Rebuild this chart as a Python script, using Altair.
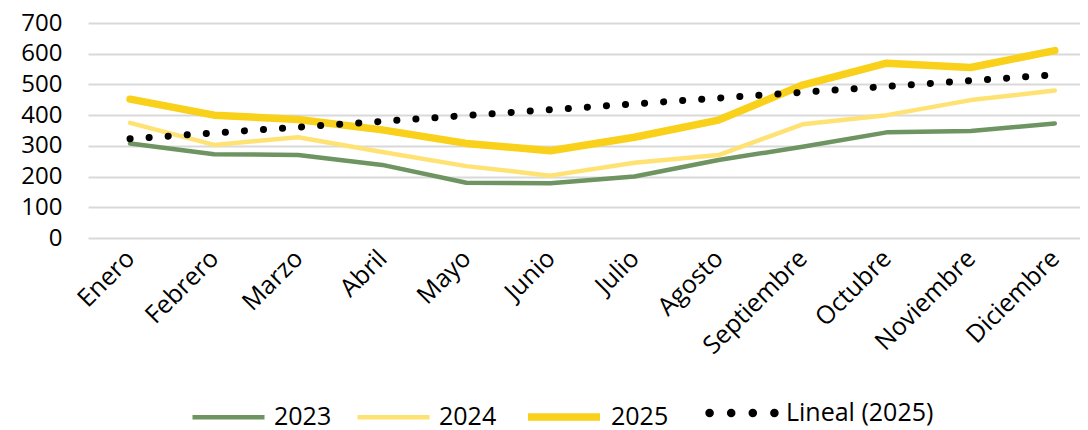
import altair as alt
import pandas as pd

months = ["Enero", "Febrero", "Marzo", "Abril", "Mayo", "Junio", "Julio",
          "Agosto", "Septiembre", "Octubre", "Noviembre", "Diciembre"]
v2023 = [308, 273, 270, 238, 180, 178, 200, 254, 297, 344, 348, 373]
v2024 = [375, 303, 328, 280, 234, 203, 245, 270, 370, 400, 449, 480]
v2025 = [452, 400, 386, 352, 308, 284, 328, 384, 498, 569, 555, 610]
series_names = ["2023", "2024", "2025"]
colors = ["#6E9461", "#FFE274", "#F9D01A"]
trend_name = "Lineal (2025)"

rows = []
for name, vals in zip(series_names, [v2023, v2024, v2025]):
    for i, v in enumerate(vals):
        rows.append({"idx": i + 1, "mes": months[i], "series": name, "value": v})
df = pd.DataFrame(rows)

font = "Open Sans"
label_expr = "[" + ",".join("'%s'" % m for m in months) + "][datum.value - 1]"

x = alt.X("idx:Q", scale=alt.Scale(domain=[0.5, 12.3], nice=False, zero=False),
          axis=alt.Axis(values=list(range(1, 13)), labelExpr=label_expr, title=None,
                        grid=False, domain=False, ticks=False, labelAngle=-45,
                        labelAlign="right", labelBaseline="middle", labelPadding=16,
                        labelOverlap=False, labelFontSize=25, labelColor="#000",
                        labelFont=font))
y = alt.Y("value:Q", scale=alt.Scale(domain=[0, 700], nice=False),
          axis=alt.Axis(values=list(range(0, 701, 100)), title=None, domain=False,
                        ticks=False, labelPadding=26, labelFontSize=24,
                        labelColor="#000", labelFont=font, gridColor="#D9D9D9",
                        gridWidth=2))

color = alt.Color("series:N", scale=alt.Scale(domain=series_names, range=colors),
                  legend=alt.Legend(title=None, orient="none", direction="horizontal",
                                    legendX=102, legendY=354,
                                    symbolType="stroke", symbolSize=5184,
                                    labelFontSize=25, labelFont=font, labelColor="#000",
                                    labelOffset=7, columnPadding=16))
sw = alt.StrokeWidth("series:N", scale=alt.Scale(type="ordinal", domain=series_names,
                                                 range=[4.5, 4.5, 7.5]),
                     legend=None)

# four-dot legend symbol for the trend line
r = 0.107
dots_path = " ".join(
    "M%.3f,0 a%.3f,%.3f 0 1,0 %.3f,0 a%.3f,%.3f 0 1,0 %.3f,0" % (cx - r, r, r, 2 * r, r, r, -2 * r)
    for cx in [-0.81, -0.27, 0.27, 0.81]
)

base = alt.Chart(df)
lines = base.mark_line(strokeCap="round", strokeJoin="round").encode(
    x=x, y=y, color=color, strokeWidth=sw, detail="series:N")

trend = base.transform_filter(alt.datum.series == "2025").transform_regression(
    "idx", "value", method="linear", extent=[1, 12]
).transform_calculate(trend=f"'{trend_name}'").mark_line(
    strokeCap="round", color="#000", strokeWidth=7, strokeDash=[0.1, 19]
).encode(
    x=x, y=y,
    opacity=alt.Opacity("trend:N", scale=alt.Scale(domain=[trend_name], range=[1]),
                        legend=alt.Legend(title=None, orient="none", legendX=614,
                                          legendY=350, symbolType=dots_path,
                                          symbolSize=6400, symbolFillColor="#000",
                                          symbolStrokeColor="#000", symbolStrokeWidth=0,
                                          labelFontSize=25, labelFont=font,
                                          labelColor="#000", labelOffset=4)))

chart = alt.layer(lines, trend).properties(
    width=992, height=215,
    autosize=alt.AutoSizeParams(type="none"),
    padding={"left": 80, "top": 15, "right": 0, "bottom": 190},
).configure_view(stroke=None)

chart.save("out.html", embed_options={"renderer": "svg", "actions": False})
